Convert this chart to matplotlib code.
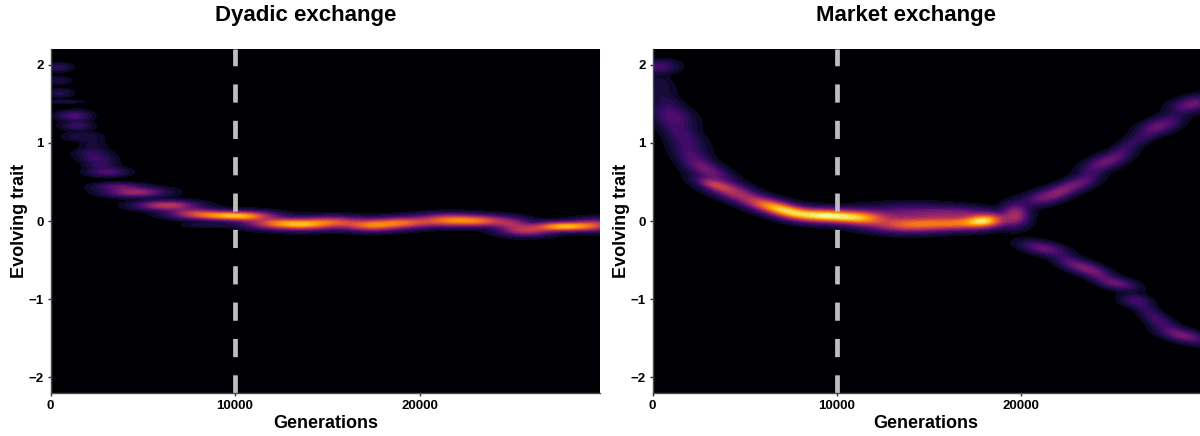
import numpy as np
import matplotlib
matplotlib.use("Agg")
import matplotlib.pyplot as plt

plt.rcParams['font.family'] = ['Liberation Sans', 'DejaVu Sans']

titles = ["Dyadic exchange", "Market exchange"]
x_label = "Generations"
y_label = "Evolving trait"
x_ticks = [0, 10000, 20000]
y_ticks = [-2, -1, 0, 1, 2]
switch_generation = 10000

# Density ridges: generation, trait, height, spread, local slope
dyadic_gen = [400, 400, 500, 700, 1200, 1400, 1700, 2100, 2400, 2700, 3100, 3700, 4600, 6300, 7700,
              9200, 10700, 8500, 12300, 13800, 15300, 17400, 19100, 21500, 21500, 23300, 25000, 25800, 27800, 29500,
              1500, 2300, 2800]
dyadic_trait = [1.97, 1.8, 1.64, 1.53, 1.35, 1.22, 1.08, .87, .8, .72, .63, .44, .37, .2, .11,
                .07, .06, -.05, -.03, -.05, -.01, -.06, -.02, .0, .05, 0.0, -.04, -.12, -.07, -.05,
                1.28, .95, .78]
dyadic_height = [.11, .06, .08, .07, .16, .09, .06, .07, .09, .09, .19, .2, .38, .47, .33,
                 .6, .48, .07, .55, .5, .47, .55, .55, .42, .18, .55, .26, .42, .78, .42,
                 .05, .05, .06]
dyadic_sx = [450, 450, 450, 650, 550, 550, 650, 550, 550, 500, 650, 800, 1000, 1000, 900,
             1200, 1000, 800, 1100, 1000, 1100, 1000, 1100, 1000, 1100, 1100, 600, 900, 1000, 800,
             450, 450, 500]
dyadic_sy = [.032, .03, .035, .012, .035, .03, .035, .03, .03, .03, .035, .03, .037, .037, .04,
             .035, .04, .02, .045, .045, .045, .045, .045, .045, .04, .045, .045, .045, .037, .05,
             .09, .08, .07]

market_gen = [400, 500, 700, 1100, 1500, 1800, 2100, 3000, 3300, 4230, 6400, 7500, 9300, 11300, 13900,
              14000, 16500, 18060, 16600, 19700, 21300, 22100, 22900, 23700, 24600, 25400, 26000, 26800, 27500, 28300, 29300,
              21200, 22300, 23400, 24300, 25200, 26200, 26900, 27600, 28800]
market_trait = [1.98, 1.75, 1.55, 1.35, 1.15, 1.05, .85, .65, .47, .39, .19, .12, .07, .04, -.05,
                .1, -.03, .01, .1, .08, .31, .37, .46, .6, .76, .88, 1.0, 1.1, 1.22, 1.35, 1.5,
                -.35, -.47, -.6, -.7, -.8, -1.02, -1.15, -1.3, -1.47]
market_height = [.16, .05, .06, .18, .09, .08, .15, .24, .22, .42, .58, .45, .88, .62, .55,
                 .25, .55, .68, .2, .38, .26, .08, .25, .07, .25, .07, .09, .05, .24, .03, .26,
                 .24, .05, .3, .08, .24, .15, .08, .14, .27]
market_sx = [600, 500, 600, 700, 700, 700, 650, 800, 500, 1000, 900, 800, 1100, 950, 1300,
             1700, 1300, 700, 1200, 450, 750, 400, 750, 400, 750, 400, 500, 400, 700, 350, 700,
             750, 400, 800, 400, 650, 500, 450, 600, 800]
market_sy = [.05, .09, .07, .085, .09, .085, .085, .07, .035, .07, .06, .06, .055, .06, .06,
             .07, .055, .055, .05, .09, .06, .06, .06, .06, .065, .06, .06, .06, .065, .06, .06,
             .05, .055, .055, .055, .045, .05, .06, .06, .05]
market_slope = [0, -1e-4, -1e-4, -.6e-4, -1e-4, -1e-4, -1e-4, -.8e-4, -.6e-4, -.7e-4, -.5e-4, -.4e-4, -.1e-4, -.1e-4, 0,
                0, 0, .1e-4, 0, 0, .5e-4, .8e-4, .7e-4, .8e-4, .7e-4, .8e-4, .8e-4, .8e-4, .6e-4, .6e-4, .4e-4,
                -.4e-4, -.7e-4, -.7e-4, -.7e-4, -.4e-4, -.3e-4, -1e-4, -1e-4, -.5e-4]

panels = [
    (dyadic_gen, dyadic_trait, dyadic_height, dyadic_sx, dyadic_sy, [0] * len(dyadic_gen), 29780),
    (market_gen, market_trait, market_height, market_sx, market_sy, market_slope, 29700),
]
boxes = [(50.5, 600), (652.5, 1200)]

W, H = 1200, 436
fig = plt.figure(figsize=(W / 100, H / 100), dpi=100, facecolor="white")

levels = np.concatenate([[0.015], np.linspace(0.04, 1.0, 30)])
spine = "#4d4d4d"

for (gen, trait, height, sx, sy, slope, xmax), (l, r), title in zip(panels, boxes, titles):
    ax = fig.add_axes([l / W, 1 - 393 / H, (r - l) / W, (393 - 49) / H])
    ax.set_facecolor("#000004")
    xx = np.linspace(0, xmax, 600)
    yy = np.linspace(-2.205, 2.205, 600)
    X, Y = np.meshgrid(xx, yy)
    Z = np.zeros_like(X)
    for g, t, h, a, b, s in zip(gen, trait, height, sx, sy, slope):
        Z += h * np.exp(-0.5 * ((X - g) / a) ** 2 - 0.5 * ((Y - t - s * (X - g)) / b) ** 2)
    ax.contourf(X, Y, np.clip(Z, 0, 1), levels=levels, cmap="inferno", vmin=-0.05, vmax=1.0)
    ax.plot([switch_generation] * 2, [-2.205, 2.205], color="#bebebe", lw=3.4,
            dashes=(3.85, 3.85), dash_capstyle="butt")
    ax.set_xlim(0, xmax)
    ax.set_ylim(-2.205, 2.205)
    ax.set_xticks(x_ticks)
    ax.set_yticks(y_ticks)
    ax.tick_params(axis="both", length=2.5, width=1, color="#333333", labelsize=9.5, pad=2.5)
    for lab in ax.get_xticklabels() + ax.get_yticklabels():
        lab.set_fontweight("bold")
        lab.set_color("black")
    for name in ("top", "right"):
        ax.spines[name].set_visible(False)
    for name in ("left", "bottom"):
        ax.spines[name].set_color(spine)
        ax.spines[name].set_linewidth(1.0)
    ax.set_xlabel(x_label, fontsize=13, fontweight="bold", labelpad=2.5)
    ax.set_ylabel(y_label, fontsize=13, fontweight="bold", labelpad=0.5)
    fig.text((l + r) / 2 / W - 20 / W, 1 - 15 / H, title, fontsize=16, fontweight="bold",
             ha="center", va="center")

fig.savefig("out.png", dpi=100, facecolor="white")
